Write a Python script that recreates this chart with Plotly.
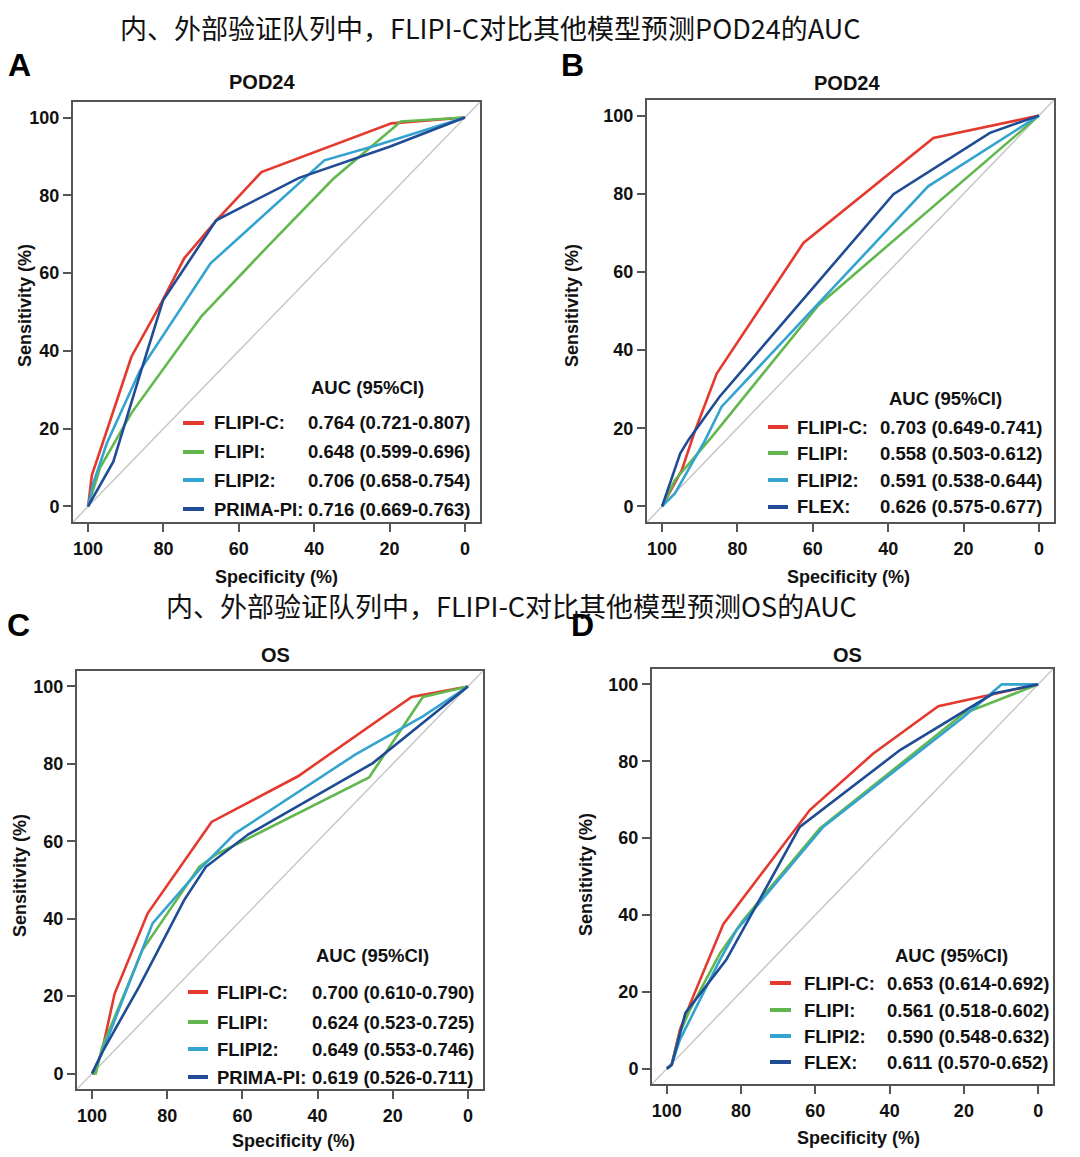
import plotly.graph_objects as go

W, H = 1080, 1157

# ---------------- data (specificity %, sensitivity %) ----------------
# Panel A: internal cohort, POD24
a_flipic_spec = [100, 99, 94.5, 88.5, 80.5, 74.5, 66, 54, 19.5, 0]
a_flipic_sens = [0, 8, 21, 38.5, 52.5, 63.8, 73.5, 86, 98.5, 100]
a_flipi_spec = [100, 96.8, 88.5, 70, 52.7, 35, 17, 0]
a_flipi_sens = [0, 10, 24, 48.8, 66.5, 84.2, 99, 100]
a_flipi2_spec = [100, 98.6, 95, 86.2, 67.5, 37.3, 23.6, 0]
a_flipi2_sens = [0, 6, 16.3, 35, 62.5, 89, 92.8, 100]
a_prima_spec = [100, 93.3, 86.2, 80.1, 66, 44, 20, 0]
a_prima_sens = [0, 11.5, 34, 53, 73.6, 84.5, 92.5, 100]

# Panel B: external cohort, POD24
b_flipic_spec = [100, 94.8, 91.2, 85.5, 62.5, 28, 0]
b_flipic_sens = [0, 9.2, 19.5, 34, 67.4, 94.3, 100]
b_flipi_spec = [100, 96.6, 86.8, 58.5, 0]
b_flipi_sens = [0, 6.7, 17.8, 51.5, 100]
b_flipi2_spec = [100, 96.6, 88.6, 84.2, 29.4, 0]
b_flipi2_sens = [0, 3.3, 16.9, 25.5, 81.9, 100]
b_flex_spec = [100, 95.2, 93, 84.8, 38.6, 13, 0]
b_flex_sens = [0, 13.5, 17, 28, 79.9, 95.6, 100]

# Panel C: internal cohort, OS
c_flipic_spec = [100, 99.5, 97.3, 94, 85.2, 68.2, 45.2, 15, 0]
c_flipic_sens = [0, 0, 6, 20.6, 41.4, 65, 76.8, 97.3, 100]
c_flipi_spec = [100, 99, 97.3, 86.6, 71.5, 67, 60, 26.3, 12, 0]
c_flipi_sens = [0, 0, 6.8, 31.9, 53.4, 56.6, 60, 76.5, 97.3, 100]
c_flipi2_spec = [100, 97.5, 83.9, 71.5, 62, 30, 12, 0]
c_flipi2_sens = [0, 5, 38.8, 52.6, 62, 82.4, 92.3, 100]
c_prima_spec = [100, 97, 87.5, 75.5, 69.7, 58.4, 25.3, 0]
c_prima_sens = [0, 6, 22.4, 44.8, 53.4, 61.8, 80.2, 100]

# Panel D: external cohort, OS
d_flipic_spec = [100, 98.7, 96.5, 92.9, 84.8, 61.5, 44.4, 26.9, 0]
d_flipic_sens = [0, 1, 10.1, 18.8, 37.6, 67.3, 82, 94.3, 100]
d_flipi_spec = [100, 98.7, 96.5, 93.8, 85.7, 79.4, 58.8, 20.1, 0]
d_flipi_sens = [0, 1, 9.3, 15.3, 30, 38.7, 62.5, 92.4, 100]
d_flipi2_spec = [100, 98.7, 96.5, 85.7, 81.2, 57.9, 20.1, 9.8, 0]
d_flipi2_sens = [0, 1, 7.5, 28.3, 36.1, 62.9, 91.5, 100, 100]
d_flex_spec = [100, 98.7, 95, 84, 64.2, 37.2, 12.1, 0]
d_flex_sens = [0, 1, 14.5, 28.3, 62.9, 82.9, 97.6, 100]

# legend texts
names_prima = ["FLIPI-C:", "FLIPI:", "FLIPI2:", "PRIMA-PI:"]
names_flex = ["FLIPI-C:", "FLIPI:", "FLIPI2:", "FLEX:"]
a_auc = ["0.764 (0.721-0.807)", "0.648 (0.599-0.696)", "0.706 (0.658-0.754)", "0.716 (0.669-0.763)"]
b_auc = ["0.703 (0.649-0.741)", "0.558 (0.503-0.612)", "0.591 (0.538-0.644)", "0.626 (0.575-0.677)"]
c_auc = ["0.700 (0.610-0.790)", "0.624 (0.523-0.725)", "0.649 (0.553-0.746)", "0.619 (0.526-0.711)"]
d_auc = ["0.653 (0.614-0.692)", "0.561 (0.518-0.602)", "0.590 (0.548-0.632)", "0.611 (0.570-0.652)"]

panel_titles = ["POD24", "POD24", "OS", "OS"]
panel_letters = ["A", "B", "C", "D"]
main_titles = ["内、外部验证队列中，FLIPI-C对比其他模型预测POD24的AUC",
               "内、外部验证队列中，FLIPI-C对比其他模型预测OS的AUC"]
tick_vals = [0, 20, 40, 60, 80, 100]

COLORS = ["#E4392F", "#62B84E", "#34A3CF", "#1F4C94"]
FONT = "Liberation Sans, Arial, Helvetica, sans-serif"
BORDER = "#555555"

# ---------------- layout geometry (pixels) ----------------
panels = [
    dict(box=(73, 480, 102, 522), curves=[(a_flipic_spec, a_flipic_sens), (a_flipi_spec, a_flipi_sens),
                                          (a_flipi2_spec, a_flipi2_sens), (a_prima_spec, a_prima_sens)],
         names=names_prima, auc=a_auc, title=(262, 82), letter=(19, 65),
         xt=(276, 577), yt=(25, 306), hdr=(367, 387), rows=[423, 452, 480, 509],
         line=(183, 204), name_x=212, val_x=306),
    dict(box=(647, 1054, 100, 522), curves=[(b_flipic_spec, b_flipic_sens), (b_flipi_spec, b_flipi_sens),
                                            (b_flipi2_spec, b_flipi2_sens), (b_flex_spec, b_flex_sens)],
         names=names_flex, auc=b_auc, title=(847, 83), letter=(572, 65),
         xt=(848, 577), yt=(572, 306), hdr=(945, 398), rows=[427, 453, 480, 507],
         line=(768, 788), name_x=795, val_x=878),
    dict(box=(77, 483, 671, 1089), curves=[(c_flipic_spec, c_flipic_sens), (c_flipi_spec, c_flipi_sens),
                                           (c_flipi2_spec, c_flipi2_sens), (c_prima_spec, c_prima_sens)],
         names=names_prima, auc=c_auc, title=(275, 655), letter=(18, 625),
         xt=(293, 1141), yt=(20, 876), hdr=(372, 955), rows=[992, 1022, 1049, 1077],
         line=(188, 208), name_x=215, val_x=310),
    dict(box=(652, 1053, 669, 1084), curves=[(d_flipic_spec, d_flipic_sens), (d_flipi_spec, d_flipi_sens),
                                             (d_flipi2_spec, d_flipi2_sens), (d_flex_spec, d_flex_sens)],
         names=names_flex, auc=d_auc, title=(847, 655), letter=(582, 625),
         xt=(858, 1138), yt=(586, 875), hdr=(951, 955), rows=[983, 1010, 1036, 1062],
         line=(770, 791), name_x=802, val_x=885),
]

def px(x):
    return x / W

def py(y):
    return 1 - y / H

fig = go.Figure()
annotations = []
shapes = []
layout = {}

for i, p in enumerate(panels):
    k = "" if i == 0 else str(i + 1)
    xa, ya = "x" + k, "y" + k
    x0, x1, y0, y1 = p["box"]
    layout["xaxis" + k] = dict(
        domain=[px(x0), px(x1)], range=[104, -4], anchor=ya,
        tickvals=tick_vals, ticks="outside", ticklen=8, tickwidth=2, tickcolor=BORDER,
        showline=True, mirror=True, linecolor=BORDER, linewidth=2,
        showgrid=False, zeroline=False, fixedrange=True,
        tickfont=dict(family=FONT, size=18, color="#111", weight="bold"),
        ticklabelstandoff=1,
    )
    layout["yaxis" + k] = dict(
        domain=[py(y1), py(y0)], range=[-4, 104], anchor=xa,
        tickvals=tick_vals, ticks="outside", ticklen=8, tickwidth=2, tickcolor=BORDER,
        showline=True, mirror=True, linecolor=BORDER, linewidth=2,
        showgrid=False, zeroline=False, fixedrange=True,
        tickfont=dict(family=FONT, size=18, color="#111", weight="bold"),
    )
    # reference diagonal
    shapes.append(dict(type="line", xref=xa, yref=ya, x0=104, y0=-4, x1=-4, y1=104,
                       line=dict(color="#C8C8C8", width=1.5), layer="below"))
    # ROC curves
    for (spec, sens), col in zip(p["curves"], COLORS):
        fig.add_trace(go.Scatter(x=spec, y=sens, mode="lines", xaxis=xa, yaxis=ya,
                                 line=dict(color=col, width=2.6), showlegend=False,
                                 hoverinfo="skip"))
    # panel title
    annotations.append(dict(text=panel_titles[i], x=px(p["title"][0]), y=py(p["title"][1]),
                            xref="paper", yref="paper", showarrow=False,
                            xanchor="center", yanchor="middle",
                            font=dict(family=FONT, size=20, color="#111", weight="bold")))
    # panel letter
    annotations.append(dict(text=panel_letters[i], x=px(p["letter"][0]), y=py(p["letter"][1]),
                            xref="paper", yref="paper", showarrow=False,
                            xanchor="center", yanchor="middle",
                            font=dict(family=FONT, size=32, color="#000", weight="bold")))
    # axis titles
    annotations.append(dict(text="Specificity (%)", x=px(p["xt"][0]), y=py(p["xt"][1]),
                            xref="paper", yref="paper", showarrow=False,
                            xanchor="center", yanchor="middle",
                            font=dict(family=FONT, size=18, color="#111", weight="bold")))
    annotations.append(dict(text="Sensitivity (%)", x=px(p["yt"][0]), y=py(p["yt"][1]),
                            xref="paper", yref="paper", showarrow=False, textangle=-90,
                            xanchor="center", yanchor="middle",
                            font=dict(family=FONT, size=18, color="#111", weight="bold")))
    # legend header
    annotations.append(dict(text="AUC (95%CI)", x=px(p["hdr"][0]), y=py(p["hdr"][1]),
                            xref="paper", yref="paper", showarrow=False,
                            xanchor="center", yanchor="middle",
                            font=dict(family=FONT, size=18.5, color="#111", weight="bold")))
    for j in range(4):
        ry = p["rows"][j]
        shapes.append(dict(type="line", xref="paper", yref="paper",
                           x0=px(p["line"][0]), x1=px(p["line"][1]), y0=py(ry), y1=py(ry),
                           line=dict(color=COLORS[j], width=4)))
        annotations.append(dict(text=p["names"][j], x=px(p["name_x"]), y=py(ry),
                                xref="paper", yref="paper", showarrow=False,
                                xanchor="left", yanchor="middle",
                                font=dict(family=FONT, size=18.5, color="#111", weight="bold")))
        annotations.append(dict(text=p["auc"][j], x=px(p["val_x"]), y=py(ry),
                                xref="paper", yref="paper", showarrow=False,
                                xanchor="left", yanchor="middle",
                                font=dict(family=FONT, size=18.5, color="#111", weight="bold")))

# Chinese headings
for txt, (cx, cy) in zip(main_titles, [(490, 28), (511, 605)]):
    annotations.append(dict(text=txt, x=px(cx), y=py(cy), xref="paper", yref="paper",
                            showarrow=False, xanchor="center", yanchor="middle",
                            font=dict(family="Noto Sans CJK SC", size=27, color="#111")))

fig.update_layout(width=W, height=H, margin=dict(l=0, r=0, t=0, b=0),
                  paper_bgcolor="white", plot_bgcolor="white", showlegend=False,
                  annotations=annotations, shapes=shapes, **layout)

fig.write_html("out.html", config={"displayModeBar": False},
               post_script="document.body.style.margin='0';document.body.style.padding='0';")
